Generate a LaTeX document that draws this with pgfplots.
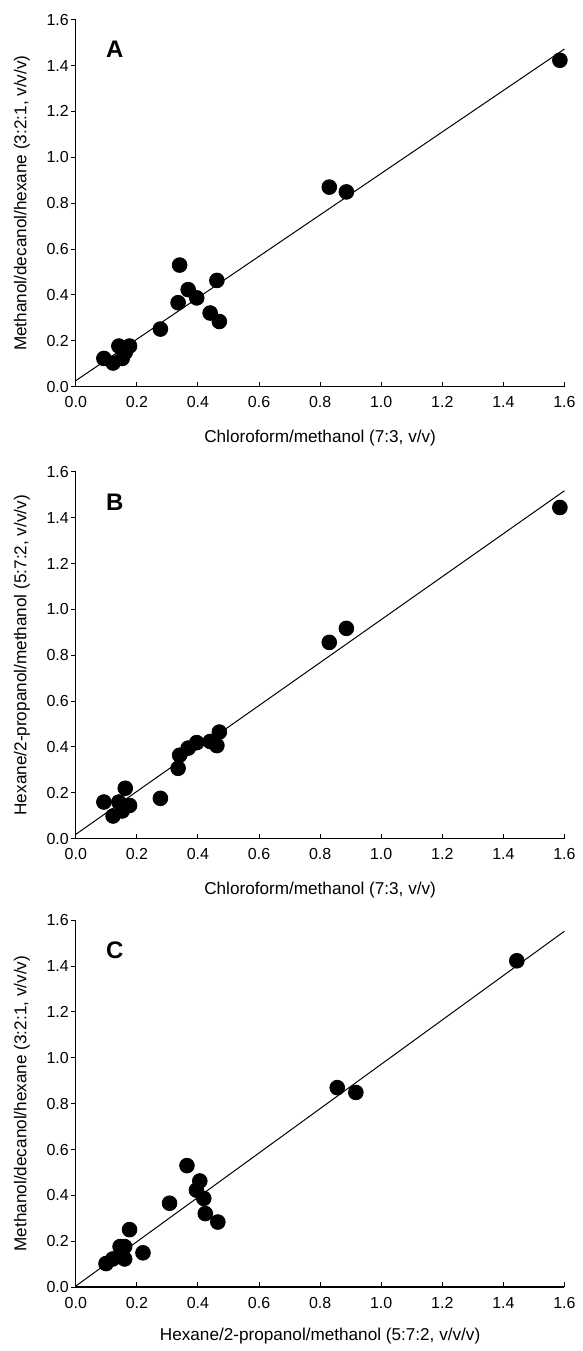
\documentclass[border=0pt]{standalone}
\usepackage{fontspec}
\setmainfont{Liberation Sans}
\usepackage{pgfplots}
\usepackage{pgfplotstable}
\pgfplotsset{compat=1.18}

% a = chloroform/methanol, b = hexane/2-propanol/methanol, c = methanol/decanol/hexane
\pgfplotstableread{
a      b      c
0.092  0.160  0.123
0.122  0.099  0.103
0.141  0.160  0.177
0.152  0.121  0.123
0.162  0.220  0.150
0.176  0.145  0.177
0.277  0.176  0.251
0.335  0.307  0.366
0.340  0.364  0.530
0.368  0.395  0.423
0.396  0.419  0.387
0.440  0.424  0.321
0.462  0.406  0.463
0.470  0.465  0.284
0.830  0.856  0.870
0.886  0.917  0.849
1.585  1.444  1.423
}\samples

\pgfplotsset{
  panel/.style={
    scale only axis,
    width=245pt, height=184pt,
    xmin=0, xmax=1.6, ymin=0, ymax=1.6,
    axis lines=left,
    axis line style={-, line width=0.7pt},
    xtick={0,0.2,...,1.6}, ytick={0,0.2,...,1.6},
    tick align=inside,
    major tick length=2.4pt,
    tick style={black, line width=0.5pt},
    ytick style={xshift=-2.4pt},
    ticklabel style={font=\fontsize{8}{9}\selectfont},
    xticklabel style={yshift=-1.5pt},
    /pgf/number format/.cd, fixed, fixed zerofill, precision=1, assume math mode=true,
    /pgfplots/.cd,
    label style={font=\fontsize{8.6}{10}\selectfont},
    ylabel style={at={(axis description cs:-0.11,0.5)}, rotate=0, anchor=center},
    clip=false,
  },
  dots/.style={only marks, mark=*, mark size=3.7pt, black, mark options={fill=black}},
  fit/.style={black, line width=0.5pt, no marks},
}
\newcommand{\panellabel}[1]{\node at (axis description cs:0.08,0.918) {\fontsize{12}{14}\selectfont\bfseries #1};}

\begin{document}
\begin{tikzpicture}
\path (-38pt,193.85pt) rectangle (250.5pt,-481.65pt);

\begin{axis}[panel, at={(0,0)},
  xlabel={Chloroform/methanol (7:3, v/v)},
  ylabel={Methanol/decanol/hexane (3:2:1, v/v/v)},
  xlabel style={at={(axis description cs:0.5,-0.141)}, anchor=center}]
\addplot[fit] coordinates {(0,0.026) (1.6,1.472)};
\addplot[dots] table[x=a, y=c] {\samples};
\panellabel{A}
\end{axis}

\begin{axis}[panel, at={(0,-226.65pt)},
  xlabel={Chloroform/methanol (7:3, v/v)},
  ylabel={Hexane/2-propanol/methanol (5:7:2, v/v/v)},
  xlabel style={at={(axis description cs:0.5,-0.141)}, anchor=center}]
\addplot[fit] coordinates {(0,0.019) (1.6,1.517)};
\addplot[dots] table[x=a, y=b] {\samples};
\panellabel{B}
\end{axis}

\begin{axis}[panel, at={(0,-451.5pt)},
  xlabel={Hexane/2-propanol/methanol (5:7:2, v/v/v)},
  ylabel={Methanol/decanol/hexane (3:2:1, v/v/v)},
  xlabel style={at={(axis description cs:0.5,-0.134)}, anchor=center}]
\addplot[fit] coordinates {(0,0.005) (1.6,1.552)};
\addplot[dots] table[x=b, y=c] {\samples};
\panellabel{C}
\end{axis}
\end{tikzpicture}
\end{document}
